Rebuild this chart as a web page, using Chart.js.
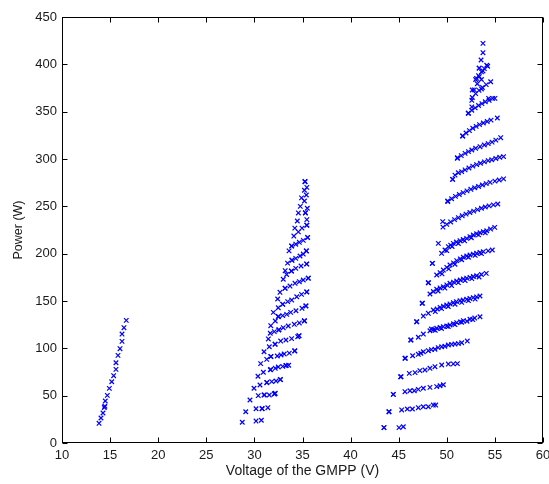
<!DOCTYPE html>
<html>
<head>
<meta charset="utf-8">
<script src="https://cdn.jsdelivr.net/npm/chart.js@4/dist/chart.umd.min.js"></script>
<style>
  html, body { margin: 0; padding: 0; background: #fff; }
  #wrap { width: 549px; height: 484px; }
</style>
</head>
<body>
<div id="wrap"><canvas id="gmppChart" width="549" height="484"></canvas></div>
<script>
// GMPP points, [voltage (V), power (W)]

// lowest voltage group: a single run
const groupA = [[13.85,20.8],[14.05,26.4],[14.26,31.7],[14.4,37.5],[14.45,38.8],[14.5,44.4],[14.71,50.3],
  [14.92,57.7],[15.17,64.7],[15.37,71.1],[15.61,77.8],[15.61,84.8],[15.82,92.6],[16.03,99.6],
  [16.24,107.4],[16.24,115.1],[16.44,121.8],[16.68,129.6]];

// middle group, one array per row
const bRow1  = [[28.74,21.9],[30.17,23.2],[30.72,24.0]];
const bRow2  = [[29.1,33.0],[30.17,36.2],[30.8,36.2],[31.4,37.3]];
const bRow3  = [[29.54,45.4],[30.4,50.0],[31.0,50.7],[31.55,50.7],[32.07,51.8],[32.17,52.5]];
const bRow4  = [[29.96,57.8],[30.58,61.3],[31.28,63.7],[31.8,64.8],[32.25,65.5],[32.7,66.9]];
const bRow5  = [[30.37,70.5],[30.93,74.7],[31.65,77.4],[32.17,78.9],[32.48,80.3],[32.94,81.0],[33.28,81.7],[33.56,82.1]];
const bRow6  = [[30.65,83.8],[31.28,88.4],[31.7,91.2],[32.38,91.9],[32.77,93.0],[33.1,94.0],[33.63,95.0],[34.19,97.2]];
const bRow7  = [[31.0,96.4],[31.55,101.7],[32.14,104.3],[32.73,107.7],[33.28,108.8],[33.87,110.2],[34.5,112.3],[34.64,113.3]];
const bRow8  = [[31.45,109.9],[31.65,115.9],[32.07,117.6],[32.53,119.4],[33.0,121.8],[33.52,123.6],[34.15,125.4],[34.67,126.8],[35.19,128.9]];
const bRow9  = [[31.7,123.9],[32.17,128.9],[32.48,133.4],[32.94,134.5],[33.36,135.9],[33.77,138.0],[34.32,139.7],[34.95,142.3],[35.36,144.7]];
const bRow10 = [[31.97,138.0],[32.48,142.9],[32.94,146.5],[33.46,149.3],[33.88,151.0],[34.4,154.5],[34.9,157.0],[35.44,159.5]];
const bRow11 = [[32.42,152.1],[32.66,159.2],[33.18,163.4],[33.7,165.8],[34.22,168.7],[34.67,170.4],[35.08,172.2],[35.6,174.0]];
const bRow12 = [[33.0,173.0],[33.35,178.0],[33.85,181.5],[34.3,184.5],[34.85,187.0],[35.45,189.0]];
const bRow13 = [[33.2,182.0],[33.45,190.0],[33.9,193.0],[34.3,195.0],[34.74,197.5],[35.08,199.6],[35.4,202.8]];
const bRow14 = [[33.6,203.0],[33.87,208.0],[34.3,210.0],[34.67,212.0],[35.08,214.0],[35.53,217.0]];
const bRow15 = [[34.1,218.6],[34.57,223.0],[34.95,227.0],[35.45,230.0]];
const bTop   = [[34.2,227.0],[34.46,234.5],[35.45,236.0],[34.57,243.0],[35.3,243.0],[35.5,248.0],[34.77,250.0],
  [35.2,255.6],[34.9,259.0],[35.4,262.0],[35.2,267.0],[35.45,270.0],[35.26,276.0]];
// second marks stacked on the same row spots
const bDense = [[30.8,36.4],[31.05,50.9],[32.1,52.0],[31.3,64.0],[32.7,67.1],[31.7,77.6],[33.3,81.9],
  [31.72,91.4],[34.2,97.4],[32.16,104.5],[34.62,113.1],[32.55,119.6],[35.2,129.1],[32.5,133.6],
  [35.35,144.9],[32.95,146.7],[35.45,159.7],[33.2,163.6],[35.6,174.2],[33.85,181.7],[35.42,189.2],
  [33.9,193.2],[35.4,203.0],[33.88,208.2],[35.53,217.2],[35.45,230.2],[35.3,243.2],[35.26,276.2]];

// highest voltage group: left edge, rows, upper scatter
const cEdge = [[43.47,16.2],[43.99,33.0],[44.44,51.4],[45.24,70.0],[45.69,89.5],[46.25,108.8],[46.87,128.1],
  [47.45,147.6],[48.08,169.3],[48.5,189.8],[49.12,210.9],[49.57,233.8],[50.09,255.6],[50.61,278.5],
  [51.1,301.4],[51.65,324.3],[52.24,348.3],[52.65,372.9],[53.1,385.2],[53.35,396.0],[53.56,404.6],
  [53.76,412.3],[53.76,422.2]];
const cRow1  = [[43.47,16.2],[45.03,16.2],[45.48,17.2]];
const cRow2  = [[43.99,33.0],[45.31,34.9],[45.9,35.9],[46.42,35.9],[47.04,37.3],[47.56,38.3],[48.08,38.3],[48.6,40.1],[48.85,40.1]];
const cRow3  = [[44.44,51.4],[45.65,54.2],[46.17,55.2],[46.62,55.2],[47.04,56.7],[47.56,57.8],[48.25,58.8],[48.95,59.5],[49.3,60.5],[49.64,61.5]];
const cRow4  = [[45.2,70.0],[46.1,73.6],[46.7,74.3],[47.2,76.4],[47.73,77.1],[48.25,78.9],[48.77,80.6],[49.47,82.4],[50.16,83.4],[50.68,83.6],[51.1,83.8]];
const cRow5  = [[45.65,89.5],[46.45,92.2],[47.04,93.7],[47.56,96.4],[48.08,97.5],[48.77,99.0],[49.47,101.7],[50.16,103.5],[50.85,104.6],[51.55,105.9],[52.13,107.7]];
const cRow6  = [[46.28,108.8],[47.04,111.7],[47.56,115.1],[48.25,118.6],[48.6,119.6],[48.95,121.2],[49.3,122.0],[49.64,122.9],
  [50.0,123.6],[50.33,124.6],[50.7,126.0],[51.03,127.1],[51.4,128.0],[51.72,129.2],[52.41,130.7],[52.9,132.0],[53.45,133.4]];
const cRow7  = [[46.87,128.1],[47.56,134.1],[48.08,137.0],[48.6,140.5],[49.0,141.5],[49.3,143.3],[49.65,144.5],[49.99,145.8],
  [50.33,147.0],[50.68,148.2],[51.0,149.3],[51.37,150.3],[51.7,151.0],[52.07,151.8],[52.4,152.7],[52.76,153.5],[53.1,154.3],[53.45,155.3]];
const cRow8  = [[47.45,147.6],[48.25,157.4],[48.6,160.0],[48.95,162.4],[49.3,163.8],[49.64,165.1],[50.0,167.0],[50.33,168.7],
  [50.7,170.0],[51.03,171.1],[51.4,172.2],[51.72,173.2],[52.07,174.2],[52.41,175.0],[52.76,175.9],[53.1,176.7],[53.6,178.0],[54.1,179.2]];
const cRow9  = [[48.08,169.3],[48.95,177.5],[49.3,180.0],[49.64,182.7],[50.0,185.5],[50.33,188.0],[50.7,190.3],[51.03,192.6],
  [51.4,194.5],[51.72,196.2],[52.07,197.5],[52.41,198.6],[52.76,199.5],[53.1,200.4],[53.45,201.2],[53.8,202.1],[54.3,203.0],[54.73,203.9]];
const cRow10 = [[48.5,189.8],[49.46,200.4],[49.81,203.9],[50.16,207.4],[50.4,209.0],[50.68,210.9],[51.0,212.3],[51.37,213.7],
  [51.7,215.0],[52.07,216.2],[52.4,218.0],[52.76,219.7],[53.1,221.0],[53.45,222.1],[53.8,223.2],[54.15,224.2],[54.55,226.0],[54.98,227.8]];
const cRow11 = [[49.6,228.0],[50.0,231.0],[50.4,233.5],[50.8,236.0],[51.2,238.0],[51.6,240.0],[52.0,241.8],[52.4,243.5],
  [52.8,245.0],[53.2,246.5],[53.6,248.0],[54.0,249.3],[54.4,250.5],[54.85,251.6],[55.3,252.5]];
const cRow12 = [[50.1,255.0],[50.5,258.0],[50.9,260.5],[51.3,262.5],[51.7,264.5],[52.1,266.3],[52.5,268.0],[52.9,269.6],
  [53.3,271.0],[53.7,272.5],[54.1,274.0],[54.5,275.3],[55.0,276.6],[55.45,277.8],[55.9,279.0]];
const cRow13 = [[50.6,278.5],[50.85,283.0],[51.2,285.5],[51.55,286.6],[51.9,288.5],[52.3,290.5],[52.7,292.5],[53.1,294.0],
  [53.5,295.5],[53.9,297.0],[54.3,298.3],[54.67,299.2],[55.1,300.5],[55.5,301.8],[55.9,302.5]];
const cRow14 = [[51.1,300.7],[51.5,303.5],[51.9,306.0],[52.25,307.8],[52.6,309.5],[53.0,311.3],[53.45,313.0],[53.9,314.8],
  [54.3,316.2],[54.7,317.8],[55.1,320.0],[55.6,322.5]];
const cRow15 = [[51.65,324.3],[52.0,327.5],[52.35,330.0],[52.7,332.5],[53.05,334.5],[53.4,336.3],[53.8,338.0],[54.2,339.6],[54.6,341.0],[55.25,343.3]];
const cRow16 = [[52.24,348.3],[52.6,351.5],[52.95,354.0],[53.3,356.5],[53.65,358.5],[54.0,360.5],[54.4,362.0],[55.0,364.1]];
const cRow17 = [[52.65,365.0],[53.0,369.0],[53.35,372.5],[53.7,375.5],[54.1,378.5],[54.56,381.6]];
const cRow18 = [[53.0,384.0],[53.3,388.0],[53.6,392.0],[53.9,395.5],[54.15,399.0]];
const cUpper = [[52.86,373.0],[53.17,379.5],[52.6,362.0],[52.6,355.0],[53.38,387.0],[53.6,374.0],[53.38,396.0],
  [53.76,393.0],[53.6,384.0],[54.25,398.0],[54.35,364.0],[54.77,364.0]];
// extra marks that thicken the middle bands
const cBand = [[47.3,94.8],[48.4,98.6],[49.1,100.8],[49.8,102.2],[50.5,104.2],[51.2,105.0],
  [48.4,120.4],[48.8,119.0],[49.45,121.0],[50.15,123.0],[50.85,125.0],[51.55,127.6],[52.1,128.6],[52.7,130.4],
  [48.8,138.8],[49.45,142.0],[50.15,144.2],[50.85,146.6],[51.55,148.6],[52.25,150.4],[52.95,152.0],
  [49.1,160.6],[49.8,163.6],[50.5,166.2],[51.2,169.4],[51.9,171.6],[52.6,173.6],[53.35,175.4],
  [49.5,178.6],[50.2,184.0],[50.85,188.8],[51.55,193.6],[52.25,196.2],[52.95,198.2],[53.6,200.0],
  [50.0,203.2],[50.55,207.6],[51.2,210.8],[51.85,213.6],[52.55,216.8],[53.3,219.8],[54.0,222.0]];

const groupB = [bRow1, bRow2, bRow3, bRow4, bRow5, bRow6, bRow7, bRow8, bRow9, bRow10,
  bRow11, bRow12, bRow13, bRow14, bRow15, bTop, bDense];
const groupC = [cEdge, cRow1, cRow2, cRow3, cRow4, cRow5, cRow6, cRow7, cRow8, cRow9, cRow10,
  cRow11, cRow12, cRow13, cRow14, cRow15, cRow16, cRow17, cRow18, cUpper, cBand];

const xTicks = { min: 10, max: 60, step: 5 };
const yTicks = { min: 0, max: 450, step: 50 };

function toXY(rows) {
  var out = [];
  rows.forEach(function(r){ r.forEach(function(p){ out.push({ x: p[0], y: p[1] }); }); });
  return out;
}

// closed box with short inward ticks on every side
const boxTicks = {
  id: 'boxTicks',
  afterDraw: function(chart) {
    var ctx = chart.ctx, a = chart.chartArea, sx = chart.scales.x, sy = chart.scales.y;
    var L = Math.round(a.left) + 0.5, R = Math.round(a.right) - 0.5;
    var T = Math.round(a.top) + 0.5, B = Math.round(a.bottom) - 0.5;
    ctx.save();
    ctx.strokeStyle = '#000';
    ctx.lineWidth = 1;
    ctx.beginPath();
    sx.ticks.forEach(function(t){
      var px = Math.round(sx.getPixelForValue(t.value)) + 0.5;
      ctx.moveTo(px, B); ctx.lineTo(px, B - 5);
      ctx.moveTo(px, T); ctx.lineTo(px, T + 5);
    });
    sy.ticks.forEach(function(t){
      var py = Math.round(sy.getPixelForValue(t.value)) + 0.5;
      ctx.moveTo(L, py); ctx.lineTo(L + 5, py);
      ctx.moveTo(R, py); ctx.lineTo(R - 5, py);
    });
    ctx.stroke();
    ctx.strokeRect(L, T, R - L, B - T);
    ctx.restore();
  }
};

const tickFont = { family: 'Arial, "Liberation Sans", sans-serif', size: 13 };

new Chart(document.getElementById('gmppChart').getContext('2d'), {
  type: 'scatter',
  data: {
    datasets: [
      { data: toXY([groupA]) },
      { data: toXY(groupB) },
      { data: toXY(groupC) }
    ]
  },
  options: {
    responsive: false,
    animation: false,
    devicePixelRatio: 1,
    layout: { padding: { top: 17, right: 6, left: 0, bottom: 0 } },
    elements: {
      point: { pointStyle: 'crossRot', radius: 3.2, borderWidth: 1.2, borderColor: '#0000ff', backgroundColor: '#0000ff' }
    },
    plugins: { legend: { display: false }, tooltip: { enabled: false } },
    scales: {
      x: {
        type: 'linear', min: xTicks.min, max: xTicks.max,
        grid: { display: false, drawTicks: false, tickLength: 0 },
        border: { display: false },
        ticks: { stepSize: xTicks.step, padding: 5, color: '#1a1a1a', font: tickFont, maxRotation: 0 },
        title: { display: true, text: 'Voltage of the GMPP (V)', color: '#1a1a1a',
                 font: { family: tickFont.family, size: 14 }, padding: { top: 4, bottom: 4 } },
        afterFit: function(s){ s.height = 41; s.paddingLeft = 0; s.paddingRight = 0; }
      },
      y: {
        type: 'linear', min: yTicks.min, max: yTicks.max,
        grid: { display: false, drawTicks: false, tickLength: 0 },
        border: { display: false },
        ticks: { stepSize: yTicks.step, padding: 5, color: '#1a1a1a', font: tickFont },
        title: { display: true, text: 'Power (W)', color: '#1a1a1a',
                 font: { family: tickFont.family, size: 12.5 }, padding: { top: 11, bottom: 0 } },
        afterFit: function(s){ s.width = 62; s.paddingTop = 0; s.paddingBottom = 0; }
      }
    }
  },
  plugins: [boxTicks]
});
</script>
</body>
</html>
